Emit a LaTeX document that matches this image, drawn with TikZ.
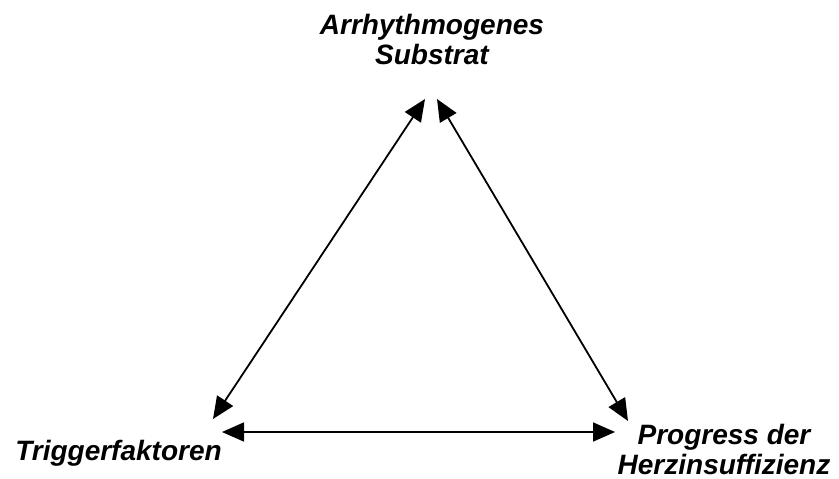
\documentclass[tikz,border=0pt]{standalone}
\usepackage{fontspec}
\setmainfont{Liberation Sans}
\usetikzlibrary{arrows.meta}
\tikzset{
  link/.style={{Triangle[length=22pt,width=19pt]}-{Triangle[length=22pt,width=19pt]}, line width=1.8pt, black},
  factor/.style={font=\fontsize{28}{30.5}\selectfont\bfseries\itshape, align=center, inner sep=0pt}
}
\begin{document}
\begin{tikzpicture}[x=1pt,y=-1pt]
  \useasboundingbox (0,0) rectangle (839,479);
  \node[factor] (sub) at (432,39.5) {Arrhythmogenes\\Substrat};
  \node[factor] (trig) at (118.5,453.5) {Triggerfaktoren};
  \node[factor] (prog) at (724,449.5) {Progress der\\Herzinsuffizienz};
  \coordinate (subL) at (425,99);
  \coordinate (subR) at (437,99);
  \coordinate (trigU) at (213,419);
  \coordinate (trigR) at (222,432);
  \coordinate (progU) at (628,421);
  \coordinate (progL) at (615,432);
  \draw[link] (subL)--(trigU);
  \draw[link] (subR)--(progU);
  \draw[link] (trigR)--(progL);
\end{tikzpicture}
\end{document}
